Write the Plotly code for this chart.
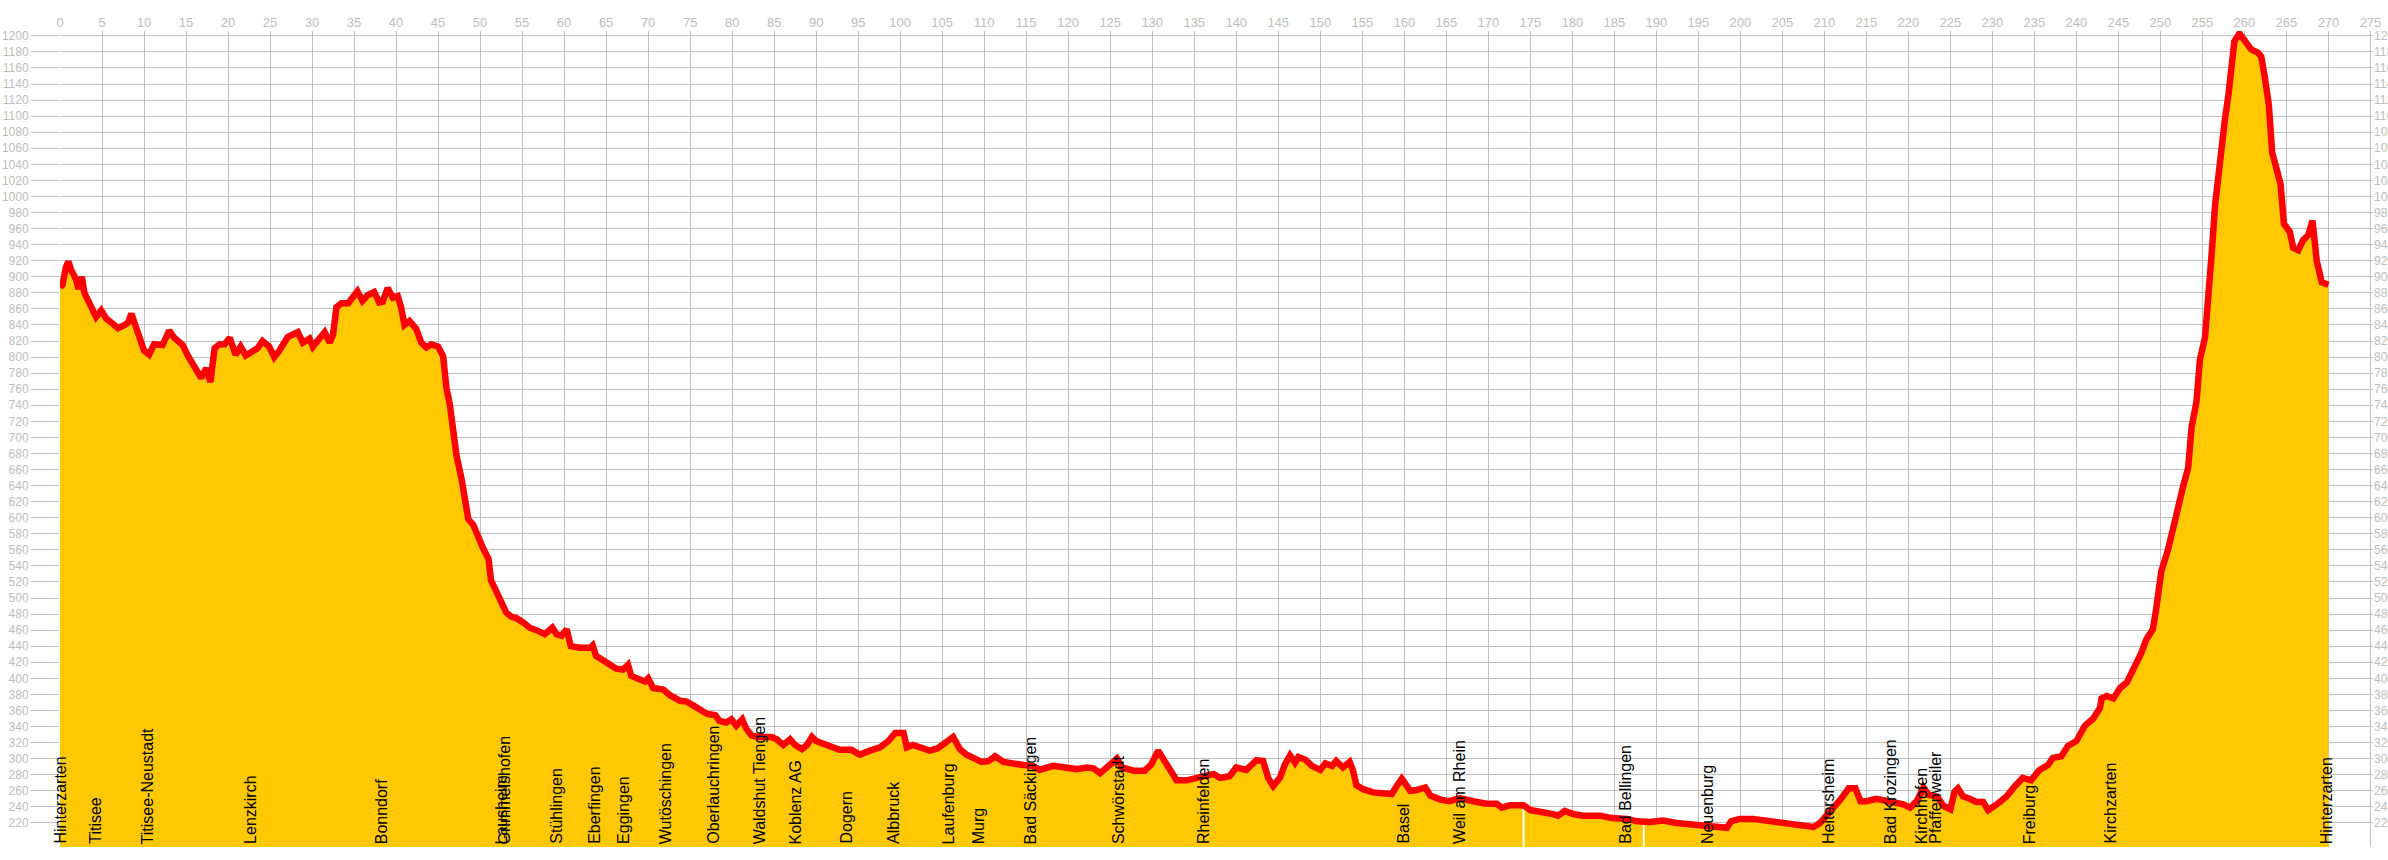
import plotly.graph_objects as go
import numpy as np

# --- data: distance (km) and elevation (m) of the route profile ---
km = [0.0, 0.3, 0.7, 1.0, 1.3, 1.9, 2.2, 2.6, 2.9, 3.3, 3.7, 4.3, 4.9, 5.5, 6.1, 6.9, 7.7, 8.1, 8.5, 8.8,
      9.4, 10.0, 10.6, 11.2, 12.2, 13.0, 13.6, 14.2, 14.6, 15.2, 16.0, 16.8, 17.4, 17.9, 18.4, 19.0, 19.6,
      20.2, 20.9, 21.5, 22.1, 22.9, 23.5, 24.1, 24.9, 25.5, 26.1, 27.1, 28.3, 28.9, 29.7, 30.1, 30.7, 31.5,
      32.1, 32.5, 32.9, 33.5, 34.3, 34.9, 35.4, 36.0, 36.6, 37.4, 38.0, 38.4, 39.0, 39.6, 40.2, 40.6, 41.0,
      41.6, 42.4, 43.0, 43.6, 44.2, 45.0,
      45.6, 46.0, 46.4, 46.8, 47.2, 47.8, 48.2, 48.6, 49.2, 49.8, 50.4, 51.0, 51.3, 51.9, 52.5, 53.1, 53.7,
      54.3, 55.1, 55.9, 56.7, 57.7, 58.6, 59.1, 59.7, 60.3, 60.8, 61.9, 63.1, 63.4, 63.8, 64.6, 65.4, 66.2,
      67.0, 67.6, 68.0, 69.0, 69.6, 70.0, 70.6, 71.8, 72.6, 73.8, 74.6, 75.4, 76.2, 77.0, 78.0, 78.5, 79.3,
      79.9, 80.5, 81.2, 81.7, 82.3, 83.1, 84.7, 85.3, 86.1, 86.9, 87.5, 88.3, 88.9, 89.5, 90.0, 91.0,
      92.0, 92.8, 94.2, 95.2, 96.4, 97.6, 98.6, 99.4, 100.4, 100.8, 101.5, 102.5, 103.5, 104.5, 105.1,
      106.3, 107.1, 107.9, 108.7, 109.7, 110.5, 111.3, 112.3, 113.5, 114.7, 115.8, 116.6, 118.2, 119.8,
      121.0, 122.2, 123.0, 123.8, 124.6, 125.8, 126.4, 127.8, 129.1, 129.9, 130.7, 131.3, 131.9, 132.9,
      134.1, 135.3, 136.5, 137.3, 138.1, 139.2, 140.0, 141.2, 142.4, 143.2, 143.8, 144.4, 145.2, 145.8,
      146.4, 147.0, 147.4, 148.2, 149.0, 150.0, 150.6, 151.4, 151.9, 152.7, 153.5, 153.9, 154.3, 155.1,
      156.3, 157.5, 158.5, 159.1, 159.7, 160.3, 160.7, 161.5, 162.5, 163.1, 164.3, 165.4, 166.6, 168.2,
      169.8, 171.0, 171.6, 172.6, 174.2, 175.0, 176.5, 177.7, 178.3, 179.1, 180.1, 181.3, 183.3, 184.7,
      186.5, 187.7, 189.2, 190.8, 192.4, 194.4, 196.0, 197.6, 198.4, 198.9, 199.9, 201.5, 203.1, 205.1,
      207.1, 208.7, 209.5, 210.7, 211.9, 212.9, 213.7, 214.3, 215.0, 216.2, 217.4, 218.6, 219.4, 220.2,
      221.0, 221.8, 222.4, 223.4, 224.2, 225.0, 225.5, 225.9, 226.5, 227.3, 228.1, 228.9, 229.5, 230.5,
      231.7, 232.7, 233.6, 234.6, 235.6, 236.6, 237.2, 238.2, 239.0, 240.0, 241.0, 242.0, 242.8, 243.0,
      243.6, 244.4, 245.2, 246.0, 246.9, 247.7, 248.3, 249.1, 249.5, 250.1, 250.9, 251.5, 252.1, 252.7,
      253.3, 253.7, 254.3, 254.7, 255.3, 255.7, 256.1, 256.5, 256.9, 257.3, 257.7, 258.1, 258.5, 258.8,
      259.4, 260.0, 260.8, 261.6, 262.0, 262.4, 262.9, 263.3, 263.8, 264.3, 264.7, 265.4, 265.8, 266.4,
      267.0, 267.6, 268.1, 268.6, 269.2, 270.0]
elev = [887, 890, 912, 919, 909, 897, 885, 900, 880, 872, 860, 850, 858, 848, 843, 836, 840, 843, 854, 845,
        830, 808, 803, 816, 815, 833, 824, 818, 815, 802, 788, 774, 786, 769, 811, 816, 816,
        824, 803, 813, 802, 806, 811, 820, 813, 800, 808, 825, 831, 818, 823, 813, 820, 831,
        818, 828, 862, 867, 867, 877, 882, 870, 877, 881, 868, 869, 886, 874, 876, 862, 840,
        845, 835, 818, 812, 816, 813,
        801, 761, 741, 707, 677, 648, 618, 598, 591, 574, 561, 549, 522, 509, 495, 482, 477,
        475, 470, 463, 460, 455, 463, 455, 453, 461, 440, 438, 438, 441, 428, 423, 416, 412,
        411, 417, 403, 398, 396, 400, 388, 386, 379, 372, 371, 366, 361, 356, 354, 347, 345,
        349, 341, 349, 337, 329, 327, 327, 324, 317, 324, 317, 312, 317, 327, 322, 318,
        314, 311, 311, 305, 310, 314, 322, 332, 332, 314, 317, 314, 310, 313, 318,
        327, 312, 305, 301, 296, 297, 303, 296, 293, 292, 291, 286, 291, 288,
        287, 289, 288, 282, 290, 300, 289, 285, 285, 293, 310, 299, 288, 273,
        273, 276, 278, 281, 276, 278, 289, 286, 298, 297, 276, 266, 276, 293,
        304, 295, 302, 299, 291, 286, 294, 291, 297, 289, 296, 285, 267, 262,
        258, 256, 256, 266, 275, 266, 260, 261, 264, 254, 249, 247, 251, 247,
        244, 244, 239, 242, 242, 236, 234, 231, 229, 235, 231, 229, 229, 226,
        225, 222, 221, 223, 220, 218, 216, 214, 214, 222, 225, 225, 223, 221,
        218, 215, 220, 234, 249, 263, 263, 247, 247, 250, 248, 245, 243, 239,
        247, 264, 255, 253, 241, 237, 259, 263, 253, 250, 246, 246, 236, 243,
        253, 266, 276, 273, 286, 292, 301, 303, 316, 322, 341, 350, 363, 375,
        378, 375, 388, 395, 413, 431, 448, 461, 487, 533, 560, 586, 619, 639,
        662, 712, 745, 797, 824, 870, 929, 989, 1028, 1068, 1098, 1127, 1157, 1193,
        1203, 1195, 1183, 1179, 1174, 1150, 1114, 1055, 1032, 1015, 966, 956, 936, 933,
        946, 952, 970, 920, 893, 890]

# places along the route (km)
place_names = ["Hinterzarten", "Titisee", "Titisee-Neustadt", "Lenzkirch", "Bonndorf", "Lausheim",
               "Grimmelshofen", "Stühlingen", "Eberfingen", "Eggingen", "Wutöschingen", "Oberlauchringen",
               "Waldshut Tiengen", "Koblenz AG", "Dogern", "Albbruck", "Laufenburg", "Murg",
               "Bad Säckingen", "Schwörstadt", "Rheinfelden", "Basel", "Weil am Rhein", "Bad Bellingen",
               "Neuenburg", "Heitersheim", "Bad Krozingen", "Kirchhofen", "Pfaffenweiler", "Freiburg",
               "Kirchzarten", "Hinterzarten"]
place_km = [0.0, 4.2, 10.4, 22.6, 38.3, 52.6, 52.9, 59.0, 63.6, 67.0, 72.1, 77.7, 83.3, 87.6, 93.5,
            99.2, 105.8, 109.3, 115.5, 126.0, 136.1, 159.8, 166.5, 186.3, 196.1, 210.5, 217.9, 221.6,
            223.2, 234.4, 244.0, 269.8]

# thin white seams visible in the filled area (km)
seam_km = [174.2, 188.5]

x_ticks = list(range(0, 280, 5))
y_ticks = list(range(220, 1201, 20))

FONT = "Liberation Sans, Arial, sans-serif"
GRID = "#C0C0C0"
TICKC = "#BDBDBD"

fig = go.Figure()
fig.add_trace(go.Scatter(x=km, y=elev, mode="lines", fill="tozeroy", fillcolor="#FFC800",
                         line=dict(width=0, color="#FFC800"), hoverinfo="skip", showlegend=False))
for s in seam_km:
    top = float(np.interp(s, km, elev))
    fig.add_trace(go.Scatter(x=[s, s], y=[0, top], mode="lines", line=dict(color="white", width=2),
                             hoverinfo="skip", showlegend=False))
fig.add_trace(go.Scatter(x=km, y=elev, mode="lines", line=dict(color="#FF0000", width=6.5),
                         showlegend=False))
# invisible trace to activate the right-hand axis
fig.add_trace(go.Scatter(x=[km[0]], y=[elev[0]], yaxis="y2", mode="markers",
                         marker=dict(opacity=0), hoverinfo="skip", showlegend=False))

for name, k in zip(place_names, place_km):
    fig.add_annotation(x=k, y=0, xref="x", yref="paper", text=name, textangle=-90,
                       showarrow=False, xanchor="center", yanchor="bottom", yshift=2,
                       borderpad=0, font=dict(family=FONT, size=16, color="#000000"))

fig.update_layout(
    width=2388, height=860,
    margin=dict(l=60, r=15, t=31, b=13, autoexpand=False),
    paper_bgcolor="white", plot_bgcolor="white",
    font=dict(family=FONT, size=12, color=TICKC),
    xaxis=dict(range=[0, 275.3], side="top", tickvals=x_ticks, ticktext=[str(v) for v in x_ticks],
               showgrid=True, gridcolor=GRID, gridwidth=1, ticks="", zeroline=False, automargin=False,
               showline=False, tickfont=dict(size=13, color=TICKC), ticklabelstandoff=0),
    yaxis=dict(range=[190, 1206], tickvals=y_ticks, ticktext=[str(v) for v in y_ticks],
               showgrid=True, gridcolor=GRID, gridwidth=1, ticks="outside", ticklen=28,
               tickcolor=GRID, zeroline=False, showline=False, automargin=False,
               tickfont=dict(size=12, color=TICKC)),
    yaxis2=dict(range=[190, 1206], overlaying="y", side="right", tickvals=y_ticks,
                ticktext=[str(v) for v in y_ticks], showgrid=False, ticks="", zeroline=False,
                showline=False, automargin=False, tickfont=dict(size=12, color=TICKC)),
)

fig.write_html("out.html", config={"displayModeBar": False},
               post_script="document.body.style.margin='0';document.body.style.overflow='hidden';")
